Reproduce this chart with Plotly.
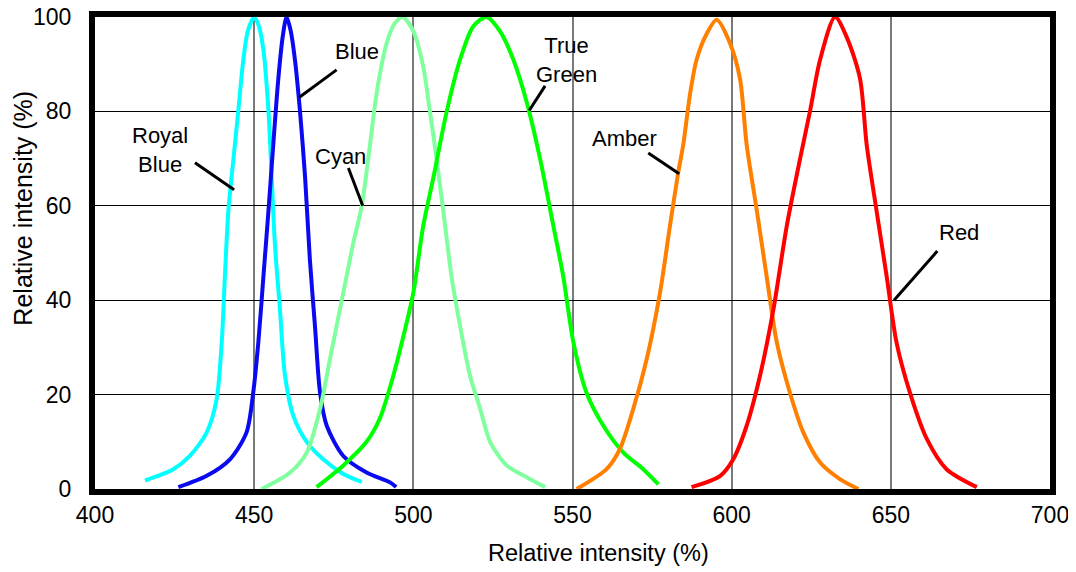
import plotly.graph_objects as go

# ---- data ----
royal_x = [415.7, 424.6, 429.8, 435.1, 438.2, 439.8, 440.8, 441.9, 443.5, 445, 446.6, 448, 450, 451.5, 452.9, 454.5, 455.5, 456.5, 458.1, 459.7, 462.3, 466.5, 471.7, 478, 483.8]
royal_y = [1.8, 4.2, 7, 12, 19, 31, 45, 59, 70, 80, 91, 97, 100, 98, 93, 80, 66, 52, 38, 24, 15.5, 10, 6.3, 3.2, 1.5]

blue_x = [426.2, 435.1, 442.4, 447.6, 449.7, 451.3, 452.9, 454.5, 456, 457.6, 459, 460.2, 461.5, 462.8, 464.4, 466, 467.5, 469.1, 470.7, 472.8, 478, 485.3, 492.7, 494.6]
blue_y = [0.4, 2.8, 6.3, 12, 20.4, 31, 45, 59, 73, 87, 96, 100, 97, 91, 80, 66, 48.6, 34.5, 20.4, 13.4, 7, 3.5, 1.4, 0.4]

cyan_x = [452.3, 461.3, 466.5, 470.7, 473.8, 478, 481.1, 483.8, 486.4, 488.5, 491.6, 494, 496.6, 500, 503.1, 505.2, 507.3, 510, 512, 514.7, 517.8, 521, 524.1, 529.3, 535.6, 541.4]
cyan_y = [0, 3.5, 7.7, 17, 27.5, 41.6, 52, 60, 73, 84, 94.4, 98.5, 100, 97, 89.5, 80, 70, 55.7, 45, 34.5, 24, 17, 10, 5, 2.5, 0.4]

green_x = [469.6, 478, 485.3, 489.5, 493.7, 496.9, 500, 503.1, 506.3, 510.5, 514.7, 518.8, 523, 527.2, 531.4, 535.6, 539.8, 544, 547.1, 550.3, 554.4, 559.7, 566, 572.2, 577]
green_y = [0.4, 5, 10, 15, 24, 32.4, 41.6, 55.7, 66, 80, 91, 98, 100, 97, 91, 82, 70, 55.7, 45, 31, 20.4, 13.4, 7.7, 4.2, 1]

amber_x = [551.3, 560.7, 564.9, 569.1, 573.3, 577.5, 580.6, 583.2, 584.8, 587, 589, 592.2, 595.3, 599.5, 602.6, 604.7, 607.9, 611, 614.2, 618.3, 622.5, 627.8, 634, 639.8]
amber_y = [0, 4.2, 8.5, 17, 27.5, 41.6, 55.7, 67, 73, 84, 91, 96.5, 99.4, 94.4, 87, 73, 59, 45, 31, 20.4, 12, 5.6, 2.1, 0]

red_x = [587.4, 596.4, 600.5, 604.7, 608.9, 613.1, 617.3, 621.5, 624.6, 627.8, 632.5, 636.1, 640.3, 642.4, 645.5, 648.7, 651.8, 656, 661.3, 667.5, 677]
red_y = [0.4, 2.8, 6.3, 13.4, 24, 38, 55.7, 70, 80, 91, 100, 95.8, 87, 73, 59, 45, 31, 20.4, 10.6, 4.2, 0.4]

series_names = ["Royal Blue", "Blue", "Cyan", "True Green", "Amber", "Red"]
series_colors = ["#00FFFF", "#0A0AF0", "#80FF9F", "#00FF00", "#FF8000", "#FF0000"]
series_x = [royal_x, blue_x, cyan_x, green_x, amber_x, red_x]
series_y = [royal_y, blue_y, cyan_y, green_y, amber_y, red_y]

# labels: text, text position, leader line start/end (data coords)
label_text = ["Royal<br>Blue", "Blue", "Cyan", "True<br>Green", "Amber", "Red"]
label_pos = [(420.4, 71.9), (482.3, 92.6), (477.0, 70.4), (548.0, 90.9), (566.2, 74.2), (671.4, 54.3)]
leader_from = [(431.4, 69.1), (475.9, 88.8), (479.6, 68.0), (541.4, 85.4), (573.8, 71.2), (664.6, 50.4)]
leader_to = [(443.7, 63.4), (464.2, 83.0), (484.1, 60.0), (536.4, 80.2), (583.5, 66.8), (651.0, 40.0)]

x_ticks = [400, 450, 500, 550, 600, 650, 700]
y_ticks = [0, 20, 40, 60, 80, 100]
x_title = "Relative intensity (%)"
y_title = "Relative intensity (%)"

FONT = "Liberation Sans, Arial, sans-serif"

fig = go.Figure()
for name, col, xs, ys in zip(series_names, series_colors, series_x, series_y):
    fig.add_trace(go.Scatter(x=xs, y=ys, mode="lines", name=name,
                             line=dict(color=col, width=4, shape="spline", smoothing=0.8)))

for (fx, fy), (tx, ty) in zip(leader_from, leader_to):
    fig.add_shape(type="line", x0=fx, y0=fy, x1=tx, y1=ty, xref="x", yref="y",
                  line=dict(color="black", width=3))

for txt, (px, py) in zip(label_text, label_pos):
    fig.add_annotation(x=px, y=py, text=txt, showarrow=False, xref="x", yref="y",
                       font=dict(family=FONT, size=22, color="black"), align="center")

# axis titles (offset as in the reference)
fig.add_annotation(x=0.527, y=0, xref="paper", yref="paper", yshift=-64,
                   text=x_title, showarrow=False, yanchor="middle",
                   font=dict(family=FONT, size=23.5, color="black"))
fig.add_annotation(x=0, y=0.594, xref="paper", yref="paper", xshift=-72,
                   text=y_title, showarrow=False, textangle=-90, xanchor="center",
                   font=dict(family=FONT, size=25, color="black"))

# the page body adds an 8px margin, so the figure is sized/offset to compensate
fig.update_layout(
    width=1068, height=564,
    margin=dict(l=87, r=26, t=8.5, b=83, autoexpand=False),
    paper_bgcolor="white", plot_bgcolor="white",
    showlegend=False,
    font=dict(family=FONT, size=23, color="black"),
)
fig.update_xaxes(range=[400, 700], tickvals=x_ticks, ticks="", showgrid=True,
                 gridcolor="#7a7a7a", gridwidth=1.5, zeroline=False,
                 showline=True, linecolor="black", linewidth=6, mirror=True,
                 ticklabelstandoff=0, ticklabeloverflow="allow", automargin=False)
fig.update_yaxes(range=[0, 100], tickvals=y_ticks, ticks="", showgrid=True,
                 gridcolor="black", gridwidth=1, zeroline=False,
                 showline=True, linecolor="black", linewidth=6, mirror=True,
                 ticklabelstandoff=13, ticklabeloverflow="allow", automargin=False)

fig.write_html("out.html")
